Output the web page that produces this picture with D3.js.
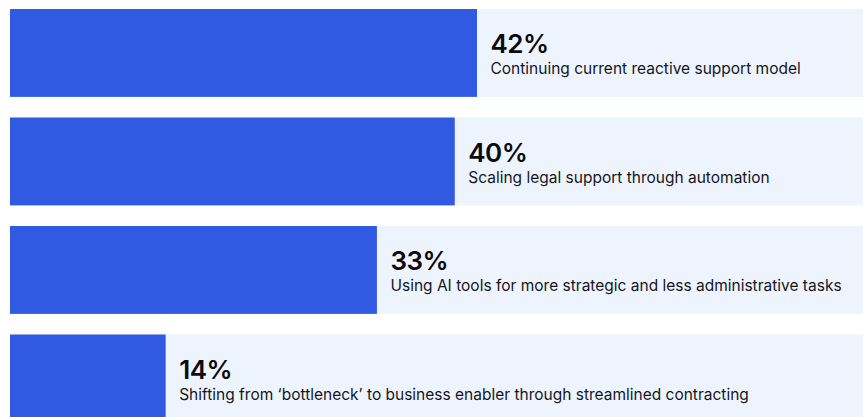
<!DOCTYPE html>
<html>
<head>
<meta charset="utf-8">
<script src="https://cdn.jsdelivr.net/npm/d3@7"></script>
<style>
  html, body { margin: 0; padding: 0; background: #ffffff; }
  svg { display: block; }
</style>
</head>
<body>
<div id="chart"></div>
<script>
// Survey responses: share of respondents per approach
const categories = [
  "Continuing current reactive support model",
  "Scaling legal support through automation",
  "Using AI tools for more strategic and less administrative tasks",
  "Shifting from \u2018bottleneck\u2019 to business enabler through streamlined contracting"
];
const values = [42, 40, 33, 14];
const valueLabels = ["42%", "40%", "33%", "14%"];

const W = 863, H = 417;
const left = 10, right = 863;
const step = 108.5, inner = 0.19;

const svg = d3.select("#chart").append("svg")
  .attr("width", W).attr("height", H);

const y = d3.scaleBand()
  .domain(d3.range(categories.length))
  .range([9, 9 + step * (categories.length - inner)])
  .paddingInner(inner)
  .paddingOuter(0);

const x = d3.scaleLinear()
  .domain([0, d3.max(values)])
  .range([left, left + 467]);

const rows = svg.selectAll("g.row")
  .data(values)
  .join("g")
  .attr("class", "row")
  .attr("transform", (d, i) => `translate(0,${y(i)})`);

// full-width track
rows.append("rect")
  .attr("x", left)
  .attr("y", 0)
  .attr("width", right - left)
  .attr("height", y.bandwidth())
  .attr("fill", "#eef4fe");

// value bar
rows.append("rect")
  .attr("x", left)
  .attr("y", 0)
  .attr("width", d => x(d) - left)
  .attr("height", y.bandwidth())
  .attr("fill", "#315ae3");

// percentage label
rows.append("text")
  .attr("x", d => x(d) + 13.5)
  .attr("y", 44)
  .attr("font-family", "Inter, 'Noto Sans', sans-serif")
  .attr("font-weight", 600)
  .attr("font-size", 26)
  .attr("letter-spacing", -0.5)
  .attr("fill", "#0b0b0f")
  .text((d, i) => valueLabels[i]);

// description
rows.append("text")
  .attr("x", d => x(d) + 13.5)
  .attr("y", 65)
  .attr("font-family", "Inter, 'Noto Sans', sans-serif")
  .attr("font-weight", 400)
  .attr("font-size", 15.5)
  .attr("fill", "#15161c")
  .text((d, i) => categories[i]);
</script>
</body>
</html>
